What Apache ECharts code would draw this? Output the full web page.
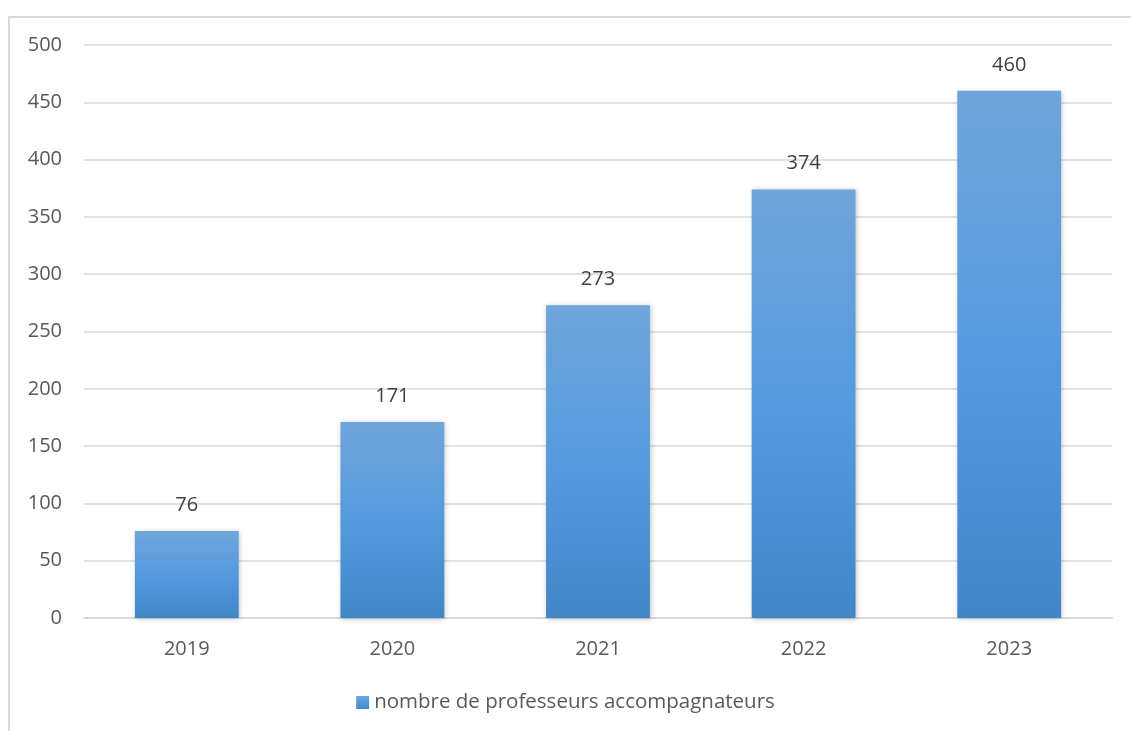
<!DOCTYPE html>
<html><head><meta charset="utf-8">
<script src="https://cdn.jsdelivr.net/npm/echarts@6/dist/echarts.min.js"></script>
<style>html,body{margin:0;padding:0;background:#fff}
#frame{position:absolute;left:8px;top:16px;width:1140px;height:730px;border:2px solid #d9d9d9;box-sizing:border-box}
#c{position:absolute;left:0;top:0;width:1131px;height:731px}</style>
</head><body><div id="frame"></div><div id="c"></div>
<script>
const categories = ['2019','2020','2021','2022','2023'];
const seriesName = 'nombre de professeurs accompagnateurs';
const values = [76, 171, 273, 374, 460];
const chart = echarts.init(document.getElementById('c'));
const font = 'Open Sans, Liberation Sans, sans-serif';
chart.setOption({
  animation:false,
  grid:{left:84,right:19,top:45,bottom:113,containLabel:false},
  legend:{bottom:13,left:'center',itemWidth:13,itemHeight:13,icon:'rect',itemGap:5,
    textStyle:{color:'#595959',fontSize:20.5,fontFamily:font},data:[seriesName]},
  xAxis:{type:'category',data:categories,
    axisLine:{lineStyle:{color:'#d9d9d9',width:2}},axisTick:{show:false},
    axisLabel:{color:'#595959',fontSize:20,fontFamily:font,margin:21}},
  yAxis:{type:'value',min:0,max:500,interval:50,
    axisLine:{show:false},axisTick:{show:false},
    splitLine:{lineStyle:{color:'#d9d9d9',width:1.5}},
    axisLabel:{color:'#595959',fontSize:20,fontFamily:font,margin:22}},
  series:[{type:'bar',name:seriesName,data:values,barWidth:'50.5%',
    itemStyle:{color:new echarts.graphic.LinearGradient(0,0,0,1,[
      {offset:0,color:'#6fa5db'},{offset:0.5,color:'#559ade'},{offset:1,color:'#4286c8'}]),
      shadowColor:'rgba(0,0,0,0.25)',shadowBlur:5,shadowOffsetX:1,shadowOffsetY:1},
    label:{show:true,position:'top',distance:16,color:'#404040',fontSize:20,fontFamily:font}}]
});
</script></body></html>
